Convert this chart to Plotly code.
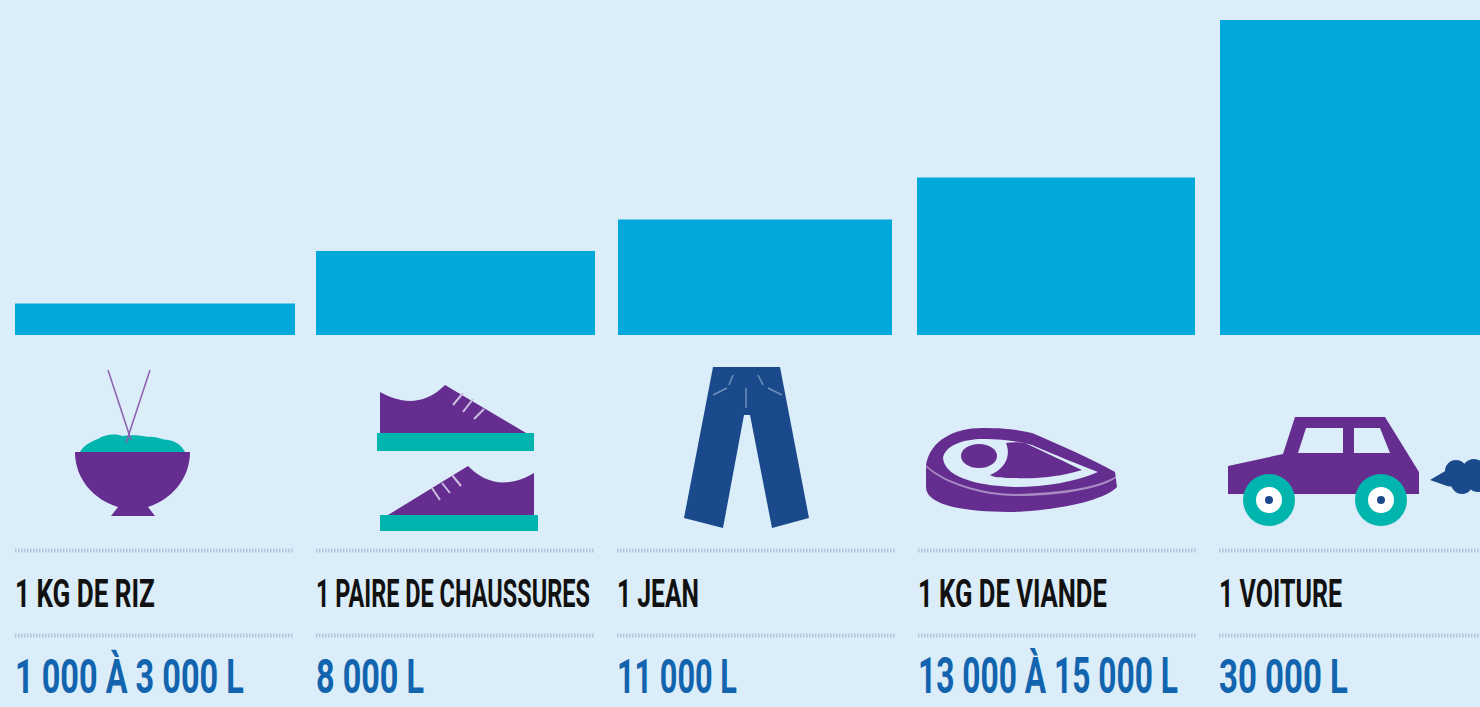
import json
import plotly.graph_objects as go

items = ["1 KG DE RIZ", "1 PAIRE DE CHAUSSURES", "1 JEAN", "1 KG DE VIANDE", "1 VOITURE"]
litres = [3000, 8000, 11000, 15000, 30000]
value_labels = ["1 000 À 3 000 L", "8 000 L", "11 000 L", "13 000 À 15 000 L", "30 000 L"]

W, H = 1480, 707
BG = "#dbedf8"; BAR = "#00a8dc"; PURPLE = "#652d90"; TEAL = "#00b5ad"; NAVY = "#1b4a8c"; VALUE = "#1264ae"
PITCH = 301.25; X0 = 155.0; PX_PER_UNIT = 10.5 / 1000; BASE = 335.0
BAR_LEFTS = [15, 316, 618, 917, 1220]
BAR_WIDTHS = [280, 279, 274, 278, 280]
ITEM_TEXT_WIDTHS = [140, 274, 82, 189, 123]
VALUE_TEXT_WIDTHS = [229, 108, 120, 260, 129]

fig = go.Figure(go.Bar(
    x=list(range(len(items))), y=litres,
    width=[w / PITCH for w in BAR_WIDTHS],
    offset=[(l - (X0 + i * PITCH)) / PITCH for i, l in enumerate(BAR_LEFTS)],
    marker=dict(color=BAR, line=dict(width=0)),
    hovertext=value_labels, hoverinfo="text",
))


def px(x):
    return x / W


def py(y):
    return 1 - y / H


def path(cmds):
    out = []
    for c in cmds:
        if isinstance(c, str):
            out.append(c)
        else:
            out.append(f"{px(c[0]):.5f},{py(c[1]):.5f}")
    return " ".join(out)


shapes = []


def fill(cmds, color):
    shapes.append(dict(type="path", xref="paper", yref="paper", path=path(cmds), fillcolor=color, line=dict(width=0), layer="above"))


def line(x0, y0, x1, y1, color, width=1.5, dash=None):
    shapes.append(dict(type="line", xref="paper", yref="paper", x0=px(x0), y0=py(y0), x1=px(x1), y1=py(y1),
                       line=dict(color=color, width=width, dash=dash), layer="above"))


def ellipse(cx, cy, rx, ry, color):
    shapes.append(dict(type="circle", xref="paper", yref="paper", x0=px(cx - rx), x1=px(cx + rx), y0=py(cy + ry), y1=py(cy - ry),
                       fillcolor=color, line=dict(width=0), layer="above"))


def circle(cx, cy, r, color):
    ellipse(cx, cy, r, r, color)


def poly(pts, color):
    cmds = []
    for i, p in enumerate(pts):
        cmds += ["M" if i == 0 else "L", p]
    cmds.append("Z")
    fill(cmds, color)


# rule lines under the icons
for left, right in [(15, 293), (316, 594), (617, 895), (918, 1196), (1219, 1480)]:
    for y in (550.5, 635.5):
        line(left, y, right, y, "#aec5dc", 4, "1.5px,1.5px")

# bowl of rice
fill(["M", (80, 452), "C", (84, 445), (92, 441), (98, 439), "C", (104, 435), (114, 433), (122, 436),
      "C", (130, 435), (140, 435), (148, 437), "C", (156, 436), (162, 440), (168, 440),
      "C", (176, 441), (182, 446), (185, 452), "Z"], TEAL)
line(108, 370, 131, 440, "#8a5fae", 1.5)
line(150, 370, 126, 443, "#8a5fae", 1.5)
fill(["M", (75, 452), "L", (190, 452), "C", (190, 480), (170, 500), (148, 507), "L", (155, 516), "L", (111, 516),
      "L", (118, 507), "C", (95, 500), (75, 480), (75, 452), "Z"], PURPLE)

# shoes
fill(["M", (380, 392), "C", (398, 402), (422, 408), (445, 385), "L", (526, 433), "L", (380, 433), "Z"], PURPLE)
poly([(377, 433), (534, 433), (534, 451), (377, 451)], TEAL)
fill(["M", (388, 515), "L", (468, 466), "C", (484, 482), (505, 490), (534, 473), "L", (534, 515), "Z"], PURPLE)
poly([(380, 515), (538, 515), (538, 531), (380, 531)], TEAL)
for a in [(453, 405, 463, 393), (463, 412, 473, 399), (474, 419, 484, 409),
          (440, 500, 432, 488), (450, 493, 442, 483), (461, 486, 452, 475)]:
    line(*a, "#cdbfe0", 2)

# jeans
poly([(713, 367), (780, 367), (809, 518), (772, 528), (750, 415), (744, 415), (723, 528), (684, 518)], NAVY)
for a in [(733, 375, 729, 385), (713, 395, 727, 388), (758, 375, 763, 385), (768, 388, 782, 395), (746, 388, 746, 408)]:
    line(*a, "#6d90ba", 1.5)

# steak
fill(["M", (926, 465), "C", (930, 440), (955, 428), (982, 428), "C", (1005, 428), (1020, 430), (1032, 433),
      "C", (1060, 445), (1090, 458), (1115, 472), "L", (1117, 487), "C", (1105, 500), (1060, 510), (1015, 512),
      "C", (975, 512), (926, 508), (926, 487), "Z"], PURPLE)
fill(["M", (926, 465), "C", (945, 483), (985, 494), (1015, 494), "C", (1060, 493), (1100, 487), (1116, 476),
      "L", (1116, 478), "C", (1100, 489), (1060, 496), (1015, 496), "C", (985, 496), (945, 485), (926, 467), "Z"], "#a98cc4")
fill(["M", (943, 458), "C", (945, 445), (965, 439), (982, 439), "C", (1005, 439), (1020, 442), (1032, 445),
      "C", (1055, 455), (1080, 465), (1098, 472), "C", (1075, 482), (1045, 487), (1015, 487),
      "C", (985, 486), (945, 480), (943, 458), "Z"], BG)
ellipse(979, 456, 18, 12, PURPLE)
fill(["M", (1006, 443), "C", (1012, 442), (1020, 442), (1025, 443), "C", (1045, 452), (1065, 462), (1082, 470),
      "C", (1060, 477), (1035, 479), (1015, 478), "C", (1005, 478), (995, 478), (990, 475),
      "C", (1003, 470), (1012, 458), (1006, 443), "Z"], PURPLE)

# car
poly([(1228, 466), (1283, 454), (1295, 417), (1385, 417), (1419, 472), (1419, 494), (1228, 494)], PURPLE)
poly([(1306, 428), (1343, 428), (1343, 453), (1298, 453)], BG)
poly([(1354, 428), (1380, 428), (1390, 453), (1354, 453)], BG)
for cx in (1269, 1381):
    circle(cx, 500, 26, TEAL)
    circle(cx, 500, 13, "#ffffff")
    circle(cx, 500, 4, NAVY)

# exhaust cloud
poly([(1430, 480), (1447, 470), (1460, 470), (1480, 474), (1480, 488), (1460, 488), (1447, 486)], NAVY)
circle(1456, 471, 11, NAVY)
circle(1474, 471, 12, NAVY)
circle(1462, 483, 11, NAVY)
circle(1478, 481, 11, NAVY)

annotations = []
lefts = [15, 316, 617, 918, 1219]
target_widths = []
for lab, val, left, w_lab, w_val in zip(items, value_labels, lefts, ITEM_TEXT_WIDTHS, VALUE_TEXT_WIDTHS):
    annotations.append(dict(text=f"<b>{lab}</b>", x=px(left), y=py(594), xref="paper", yref="paper", xanchor="left", yanchor="middle",
                            showarrow=False, font=dict(family="Roboto", size=38, color="#111111")))
    target_widths.append(w_lab)
    annotations.append(dict(text=f"<b>{val}</b>", x=px(left), y=py(676), xref="paper", yref="paper", xanchor="left", yanchor="middle",
                            showarrow=False, font=dict(family="Roboto", size=49, color=VALUE)))
    target_widths.append(w_val)

fig.update_layout(
    width=W, height=H, autosize=False, margin=dict(l=0, r=0, t=0, b=0), showlegend=False,
    paper_bgcolor=BG, plot_bgcolor=BG, shapes=shapes, annotations=annotations,
    xaxis=dict(visible=False, range=[-X0 / PITCH, (W - X0) / PITCH], fixedrange=True),
    yaxis=dict(visible=False, range=[(BASE - H) / PX_PER_UNIT, BASE / PX_PER_UNIT], fixedrange=True),
)

# The page margin is removed, and each label is condensed horizontally to its measured width
# (no condensed typeface is installed).
post_script = """
document.documentElement.style.margin = '0';
document.body.style.margin = '0';
document.body.style.overflow = 'hidden';
var widths = %s, lefts = %s;
function condense() {
  document.querySelectorAll('.annotation').forEach(function (a) {
    var i = +a.getAttribute('data-index');
    var t = a.querySelector('text.annotation-text');
    if (!t) return;
    t.removeAttribute('transform');
    var b = t.getBBox();
    if (!b.width) return;
    var s = widths[i] / b.width;
    t.setAttribute('transform', 'translate(' + b.x + ',0) scale(' + s + ',1) translate(' + (-b.x) + ',0)');
    var r = t.getBoundingClientRect();
    var dx = lefts[i] - r.left;
    t.setAttribute('transform', 'translate(' + (b.x + dx) + ',0) scale(' + s + ',1) translate(' + (-b.x) + ',0)');
  });
}
var gd = document.getElementById('{plot_id}');
condense();
setTimeout(condense, 50);
setTimeout(condense, 300);
if (gd.on) gd.on('plotly_afterplot', condense);
""" % (json.dumps(target_widths), json.dumps([l for l in lefts for _ in range(2)]))

fig.write_html("out.html", config=dict(displayModeBar=False), post_script=post_script)
